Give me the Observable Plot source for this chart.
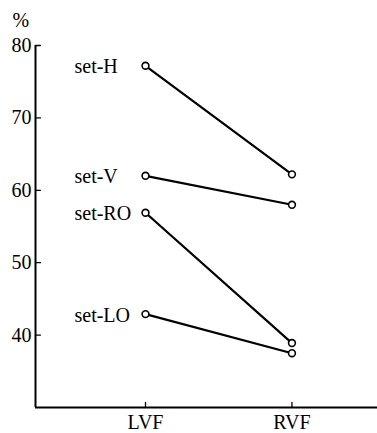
<!DOCTYPE html>
<html><head><meta charset="utf-8">
<script src="https://cdn.jsdelivr.net/npm/d3@7"></script>
<script src="https://cdn.jsdelivr.net/npm/@observablehq/plot@0.6"></script>
<style>html,body{margin:0;padding:0;background:#fff} svg{display:block}</style>
</head><body><div id="chart"></div>
<script>
const conditions = ["LVF", "RVF"];
const sets = ["set-H", "set-V", "set-RO", "set-LO"];
const lvfValues = [77.2, 62.0, 56.9, 42.9];
const rvfValues = [62.2, 58.0, 38.9, 37.5];
const yTicks = [40, 50, 60, 70, 80];
const yDomain = [30, 80];
const xDomain = [-0.751, 1.584];
const xIdx = conditions.map((c, i) => i);

const rows = [];
sets.forEach((s, i) => {
  rows.push({set: s, cond: 0, value: lvfValues[i]});
  rows.push({set: s, cond: 1, value: rvfValues[i]});
});
const labels = sets.map((s, i) => ({set: s, cond: 0, value: lvfValues[i]}));

const tickShape = {draw(context, l) { context.moveTo(0, 0); context.lineTo(0, -l); }};

const chart = Plot.plot({
  width: 377,
  height: 433,
  marginLeft: 35,
  marginRight: 0,
  marginTop: 45,
  marginBottom: 26,
  style: {fontFamily: "'Liberation Serif', 'Times New Roman', serif", fontSize: "20px", color: "#000", background: "#fff"},
  x: {type: "linear", domain: xDomain},
  y: {type: "linear", domain: yDomain},
  marks: [
    Plot.ruleY([yDomain[0]], {strokeWidth: 2}),
    Plot.ruleX([xDomain[0]], {y1: yDomain[0], y2: yDomain[1], strokeWidth: 2}),
    Plot.vector(yTicks, {x: () => xDomain[0], y: d => d, length: 5, rotate: 90, anchor: "start", shape: tickShape, strokeWidth: 1.3}),
    Plot.vector(xIdx, {x: d => d, y: () => yDomain[0], length: 5, rotate: 0, anchor: "start", shape: tickShape, strokeWidth: 1.3}),
    Plot.axisY(yTicks, {tickSize: 0, tickPadding: 4, label: null, fontSize: 20}),
    Plot.axisX(xIdx, {tickSize: 0, tickPadding: 7, label: null, fontSize: 20, tickFormat: i => conditions[i], style: "letter-spacing:1px"}),
    Plot.line(rows, {x: "cond", y: "value", z: "set", stroke: "#000", strokeWidth: 2.2}),
    Plot.dot(rows, {x: "cond", y: "value", r: 3.4, fill: "#fff", stroke: "#000", strokeWidth: 1.6}),
    Plot.text(labels, {x: "cond", y: "value", text: "set", textAnchor: "start", dx: -71, dy: 1, fontSize: 20}),
    Plot.text(["%"], {frameAnchor: "top-left", dx: -23, dy: -33, textAnchor: "start", fontSize: 20})
  ]
});
document.getElementById("chart").appendChild(chart);
</script>
</body></html>
